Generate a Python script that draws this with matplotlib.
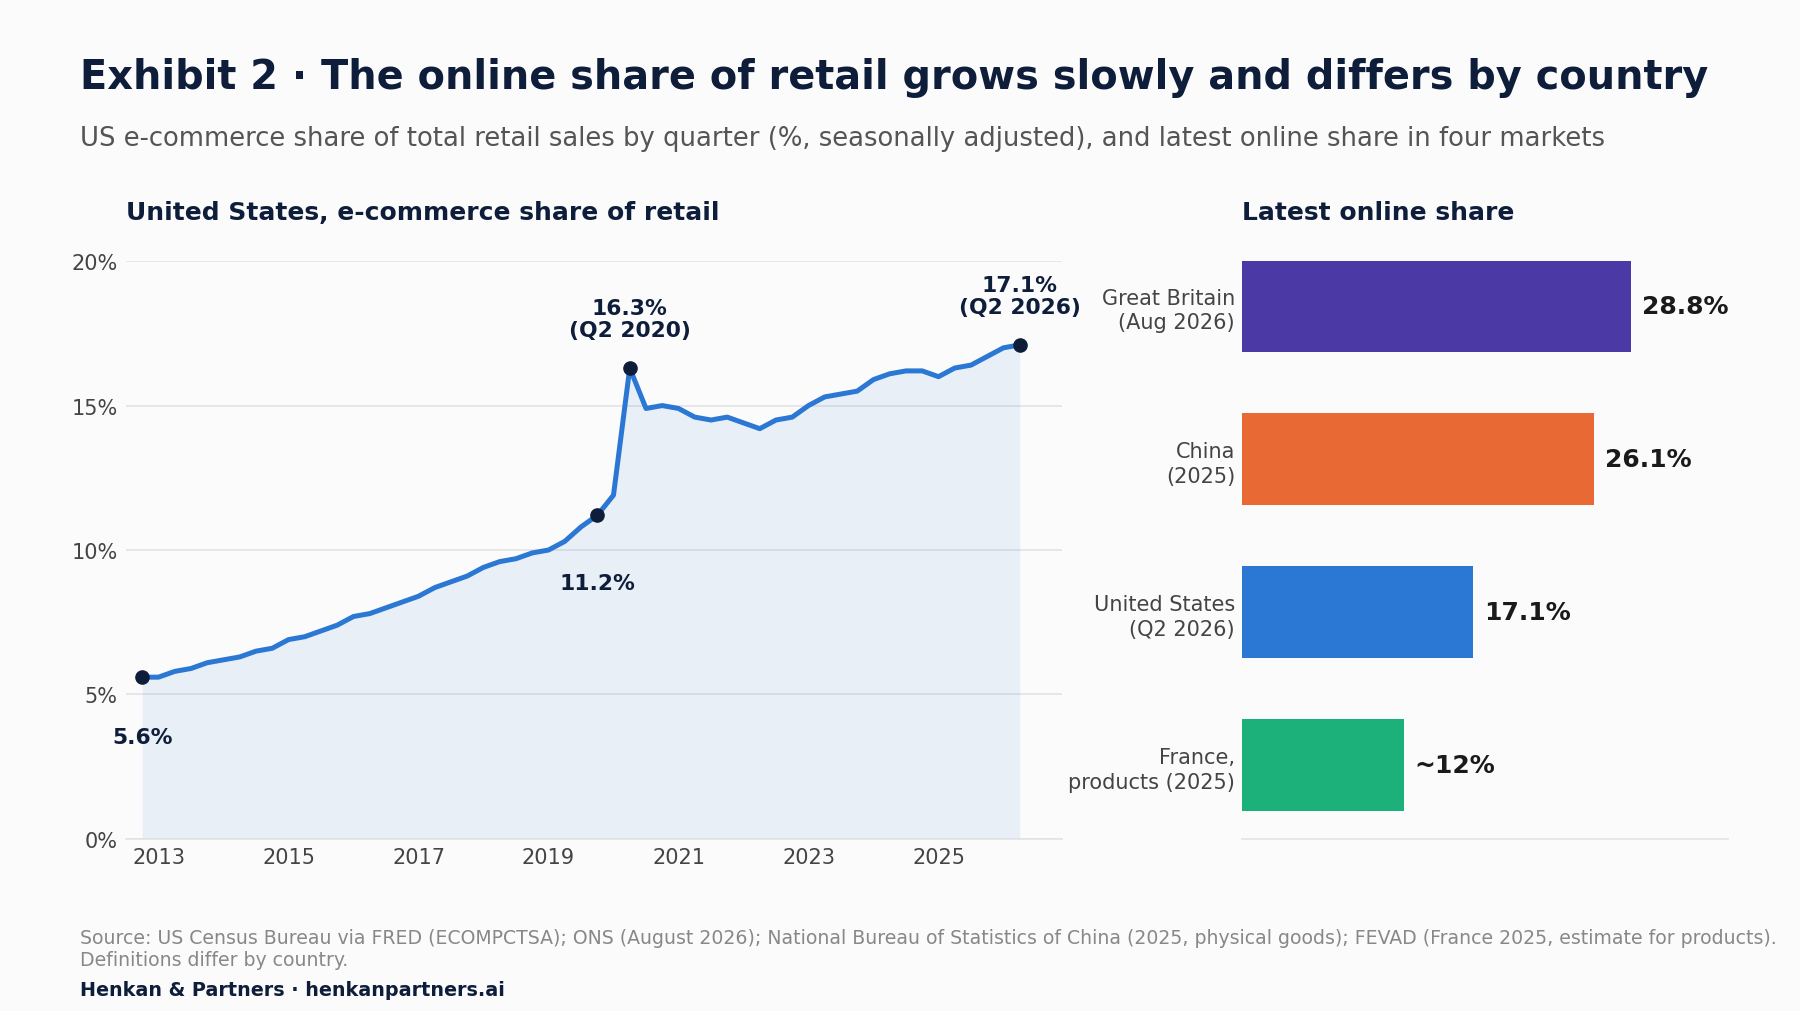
import numpy as np
import matplotlib
matplotlib.use("Agg")
from matplotlib import pyplot as plt

# US e-commerce share of retail, quarterly, Q4 2012 .. Q2 2026
start_year = 2012.75
us_share = [5.6, 5.6, 5.8, 5.9, 6.1, 6.2, 6.3, 6.5, 6.6, 6.9, 7.0, 7.2, 7.4,
            7.7, 7.8, 8.0, 8.2, 8.4, 8.7, 8.9, 9.1, 9.4, 9.6, 9.7, 9.9, 10.0,
            10.3, 10.8, 11.2, 11.9, 16.3, 14.9, 15.0, 14.9, 14.6, 14.5, 14.6,
            14.4, 14.2, 14.5, 14.6, 15.0, 15.3, 15.4, 15.5, 15.9, 16.1, 16.2,
            16.2, 16.0, 16.3, 16.4, 16.7, 17.0, 17.1]
quarters = [start_year + 0.25 * i for i in range(len(us_share))]

year_ticks = [2013, 2015, 2017, 2019, 2021, 2023, 2025]
pct_ticks = [0, 5, 10, 15, 20]

# highlighted points: index into series, label
highlights = [(0, "5.6%"), (28, "11.2%"), (30, "16.3%\n(Q2 2020)"), (54, "17.1%\n(Q2 2026)")]

countries = ["Great Britain\n(Aug 2026)", "China\n(2025)", "United States\n(Q2 2026)", "France,\nproducts (2025)"]
country_share = [28.8, 26.1, 17.1, 12.0]
country_labels = ["28.8%", "26.1%", "17.1%", "~12%"]
country_colors = ["#4B3AA6", "#E96935", "#2B78D4", "#1CB07A"]

NAVY = "#0E1E3A"
BG = "#FBFBFB"
GRID = "#E3E3E3"
BLUE = "#2B78D4"

plt.rcParams['font.family'] = ['DejaVu Sans']

fig = plt.figure(figsize=(18, 10.12), dpi=100)
fig.patch.set_facecolor(BG)

fig.text(0.0447, 0.923, "Exhibit 2 \u00b7 The online share of retail grows slowly and differs by country",
         fontsize=28.7, fontweight='bold', color=NAVY, va='center', ha='left')
fig.text(0.0447, 0.863, "US e-commerce share of total retail sales by quarter (%, seasonally adjusted), and latest online share in four markets",
         fontsize=18.6, color="#555555", va='center', ha='left')

# ---- left panel: line chart
ax1 = fig.add_axes([0.070, 0.170, 0.520, 0.571])
ax1.set_facecolor(BG)
ax1.fill_between(quarters, us_share, 0, color=BLUE, alpha=0.09, lw=0)
ax1.plot(quarters, us_share, color=BLUE, lw=3.6, solid_joinstyle='round', zorder=3)

offsets = {0: (0, -43), 28: (0, -49), 30: (0, 35), 54: (0, 35)}
for i, lab in highlights:
    ax1.plot(quarters[i], us_share[i], 'o', color=NAVY, ms=9.5, zorder=4)
    ax1.annotate(lab, (quarters[i], us_share[i]), xytext=offsets[i], textcoords='offset points',
                 ha='center', va='center', fontsize=15.7, fontweight='bold', color=NAVY,
                 linespacing=1.12)

ax1.set_xlim(2012.5, 2026.9)
ax1.set_ylim(0, 20)
ax1.set_xticks(year_ticks)
ax1.set_xticklabels([str(y) for y in year_ticks])
ax1.set_yticks(pct_ticks)
ax1.set_yticklabels([f"{p}%" for p in pct_ticks])
ax1.grid(axis='y', color=GRID, lw=1.2)
ax1.set_axisbelow(True)
for s in ['top', 'right', 'left']:
    ax1.spines[s].set_visible(False)
ax1.spines['bottom'].set_color(GRID)
ax1.spines['bottom'].set_linewidth(1.2)
ax1.tick_params(length=0, labelsize=15, labelcolor="#444444", pad=6)
fig.text(0.070, 0.790, "United States, e-commerce share of retail", fontsize=18, fontweight='bold',
         color=NAVY, va='center', ha='left')

# ---- right panel: bar chart
ax2 = fig.add_axes([0.690, 0.170, 0.270, 0.571])
ax2.set_facecolor(BG)
ypos = np.arange(len(countries))
ax2.barh(ypos, country_share, height=0.6, color=country_colors)
for y, v, lab in zip(ypos, country_share, country_labels):
    ax2.text(v + 0.8, y, lab, va='center', ha='left', fontsize=18, fontweight='bold', color="#1A1A1A")
ax2.set_yticks(ypos)
ax2.set_yticklabels(countries, fontsize=15, color="#444444", linespacing=1.3)
ax2.set_xlim(0, 36)
ax2.set_ylim(3.48, -0.29)
ax2.set_xticks([])
for s in ['top', 'right', 'left']:
    ax2.spines[s].set_visible(False)
ax2.spines['bottom'].set_color(GRID)
ax2.spines['bottom'].set_linewidth(1.2)
ax2.tick_params(length=0, pad=5)
fig.text(0.690, 0.790, "Latest online share", fontsize=18, fontweight='bold',
         color=NAVY, va='center', ha='left')

# ---- footer
fig.text(0.0447, 0.073, "Source: US Census Bureau via FRED (ECOMPCTSA); ONS (August 2026); National Bureau of Statistics of China (2025, physical goods); FEVAD (France 2025, estimate for products).",
         fontsize=13.6, color="#888888", va='center', ha='left')
fig.text(0.0447, 0.051, "Definitions differ by country.", fontsize=13.6, color="#888888", va='center', ha='left')
fig.text(0.0447, 0.021, "Henkan & Partners \u00b7 henkanpartners.ai", fontsize=13.8, fontweight='bold',
         color=NAVY, va='center', ha='left')

fig.savefig("out.png", dpi=100, facecolor=BG)
